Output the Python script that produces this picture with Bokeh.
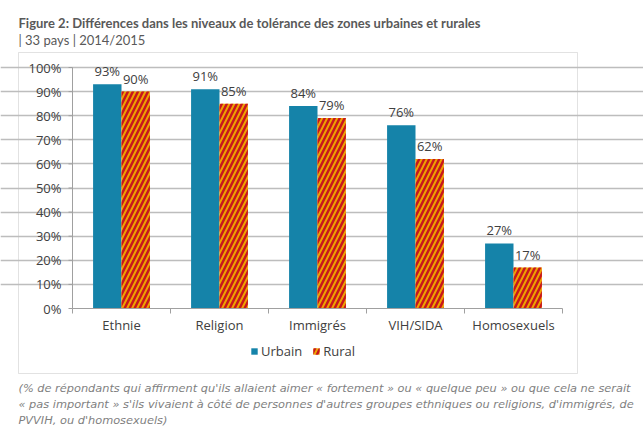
import math
from bokeh.plotting import figure
from bokeh.models import (ColumnDataSource, LabelSet, Label, Range1d, FixedTicker, Grid,
                          Legend, LegendItem, BoxAnnotation)
from bokeh.core.properties import value
from bokeh.embed import file_html
from bokeh.resources import INLINE

categories = ["Ethnie", "Religion", "Immigrés", "VIH/SIDA", "Homosexuels"]
urbain = [93, 91, 84, 76, 27]
rural = [90, 85, 79, 62, 17]
series_names = ["Urbain", "Rural"]
y_ticks = [0, 10, 20, 30, 40, 50, 60, 70, 80, 90, 100]
y_tick_labels = [f"{t}%" for t in y_ticks]
title_text = "Figure 2: Différences dans les niveaux de tolérance des zones urbaines et rurales"
subtitle_text = "| 33 pays | 2014/2015"
footnote_lines = [
    "(% de répondants qui affirment qu'ils allaient aimer « fortement » ou « quelque peu » ou que cela ne serait",
    "« pas important » s'ils vivaient à côté de personnes d'autres groupes ethniques ou religions, d'immigrés, de",
    "PVVIH, ou d'homosexuels)",
]

W, H = 643, 429
PL, PR, PT, PB = 72, 562, 67, 308  # plot-area edges in page px
FONT = "Open Sans"
TEAL = "#1583A9"
ORANGE = "#EDA300"
RED = "#C8161D"
TXT = "#404040"
AXIS = "#A0A0A0"
GRID = "#BDBDBD"
n = len(categories)
ymax = max(y_ticks)


def dx(px):
    return (px - PL) / (PR - PL) * n


def dy(py):
    return (PB - py) / (PB - PT) * ymax


p = figure(width=W, height=H, output_backend="svg", toolbar_location=None,
           x_range=Range1d(dx(0), dx(W)), y_range=Range1d(dy(H), dy(0)),
           x_axis_location=None, y_axis_location=None, min_border=0)
p.outline_line_color = None
p.grid.visible = False

# chart box
p.add_layout(BoxAnnotation(left=dx(18), right=dx(577), top=dy(52), bottom=dy(373),
                           fill_alpha=0, line_color=AXIS, line_width=1, level="underlay"))

# horizontal gridlines limited to the plot area
p.add_layout(Grid(dimension=1, ticker=FixedTicker(ticks=y_ticks[1:]), bounds=(0, n),
                  grid_line_color=GRID, grid_line_width=1.5))

centers = [i + 0.5 for i in range(n)]
bw = 0.29
src = ColumnDataSource(dict(
    xu=[c - bw / 2 for c in centers], xr=[c + bw / 2 for c in centers],
    u=urbain, r=rural,
    ul=[f"{v}%" for v in urbain], rl=[f"{v}%" for v in rural]))

ru = p.vbar(x="xu", top="u", width=bw, source=src, fill_color=TEAL, line_color=None)
rr = p.vbar(x="xr", top="r", width=bw, source=src, fill_color=ORANGE, line_color=None,
            hatch_pattern="/", hatch_color=RED, hatch_weight=2.5, hatch_scale=10)

for xcol, ycol, lcol in (("xu", "u", "ul"), ("xr", "r", "rl")):
    p.add_layout(LabelSet(x=xcol, y=ycol, text=lcol, source=src, text_align="center",
                          text_baseline="alphabetic", y_offset=8, text_font=value(FONT),
                          text_font_size="13px", text_color=TXT))

# y axis: line, ticks, labels
p.segment(x0=[0], y0=[min(y_ticks)], x1=[0], y1=[ymax], line_color=AXIS, line_width=1)
ysrc = ColumnDataSource(dict(x=[0] * len(y_ticks), y=y_ticks, t=y_tick_labels))
p.ray(x="x", y="y", source=ysrc, length=4, length_units="screen", angle=math.pi,
      line_color=AXIS, line_width=1)
p.add_layout(LabelSet(x="x", y="y", text="t", source=ysrc, text_align="right",
                      text_baseline="middle", x_offset=-11, text_font=value(FONT),
                      text_font_size="13px", text_color=TXT))

# x axis: line, boundary ticks, category labels
bounds = list(range(n + 1))
p.segment(x0=[0], y0=[0], x1=[n], y1=[0], line_color=AXIS, line_width=1)
p.ray(x=bounds, y=[0] * len(bounds), length=5, length_units="screen", angle=-math.pi / 2,
      line_color=AXIS, line_width=1)
xsrc = ColumnDataSource(dict(x=centers, y=[0] * n, t=categories))
p.add_layout(LabelSet(x="x", y="y", text="t", source=xsrc, text_align="center",
                      text_baseline="alphabetic", y_offset=-21, text_font=value(FONT),
                      text_font_size="13px", text_color=TXT))

# legend
legend = Legend(items=[LegendItem(label=series_names[0], renderers=[ru]),
                       LegendItem(label=series_names[1], renderers=[rr])],
                orientation="horizontal", location=(250, 69),
                glyph_width=8, glyph_height=8, label_standoff=3, spacing=10,
                padding=0, margin=0, label_height=14, border_line_color=None,
                background_fill_alpha=0,
                label_text_font=FONT, label_text_font_size="13px", label_text_color=TXT)
p.add_layout(legend)

# title, subtitle, footnote
p.add_layout(Label(x=dx(18), y=dy(22.7), text=title_text, text_font="Lato",
                   text_font_style="bold", text_font_size="13px", text_color="#595959",
                   text_baseline="alphabetic"))
p.add_layout(Label(x=dx(18), y=dy(39), text=subtitle_text, text_font="Lato",
                   text_font_size="13px", text_color="#595959",
                   text_baseline="alphabetic"))
for i, line in enumerate(footnote_lines):
    p.add_layout(Label(x=dx(18), y=dy(387 + 16 * i), text=line, text_font="DejaVu Sans",
                       text_font_style="italic", text_font_size="11.35px", text_color="#7F7F7F",
                       text_baseline="alphabetic"))

open("out.html", "w").write(file_html(p, INLINE))
